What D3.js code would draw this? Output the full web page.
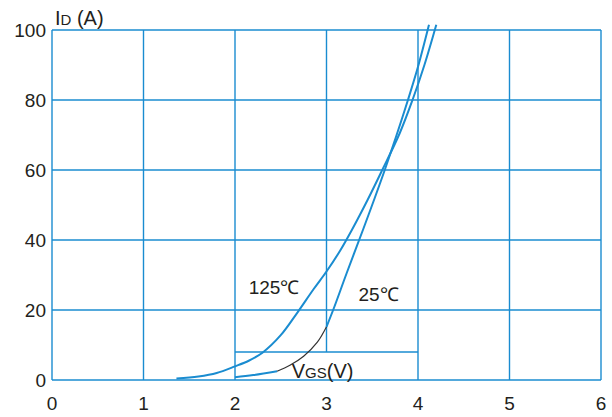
<!DOCTYPE html>
<html>
<head>
<meta charset="utf-8">
<script src="https://cdn.jsdelivr.net/npm/d3@7"></script>
<style>
  body { margin: 0; background: #fff; }
  text { font-family: "Liberation Sans", Arial, sans-serif; fill: #231f20; }
</style>
</head>
<body>
<script>
var xTicks = [0, 1, 2, 3, 4, 5, 6];
var yTicks = [0, 20, 40, 60, 80, 100];

// 125 C transfer curve [Vgs, Id]
var curve125 = [
  [1.36, 0.4], [1.6, 1.0], [1.8, 2.0], [2.0, 3.9], [2.15, 5.5], [2.3, 7.8],
  [2.5, 12.8], [2.68, 19.2], [2.86, 26], [3.0, 31], [3.15, 37], [3.28, 43],
  [3.45, 51.5], [3.6, 59.5], [3.8, 70.5], [3.94, 80], [4.07, 90], [4.2, 101.5]
];
// 25 C transfer curve
var curve25 = [
  [2.0, 0.8], [2.2, 1.4], [2.46, 2.5], [2.6, 4.2], [2.75, 6.8], [2.9, 10.8],
  [3.0, 15.2], [3.08, 20.5], [3.22, 30.5], [3.4, 43], [3.52, 51.5],
  [3.63, 59.5], [3.76, 69.5], [3.89, 80], [4.0, 89.5], [4.12, 101.5]
];

var width = 612, height = 417;
var margin = {top: 30, right: 11, bottom: 37, left: 52};
var w = width - margin.left - margin.right,
    h = height - margin.top - margin.bottom;
var blue = "#1a8cd0";

var xScale = d3.scaleLinear().domain([0, 6]).range([0, w]);
var yScale = d3.scaleLinear().domain([0, 100]).range([h, 0]);

var svg = d3.select("body").append("svg")
    .attr("width", width)
    .attr("height", height);

var g = svg.append("g")
    .attr("transform", "translate(" + margin.left + "," + margin.top + ")");

// grid - vertical (x=3 stops above the Vgs label box)
g.selectAll(".vgrid")
  .data(xTicks)
  .enter().append("line")
    .attr("x1", function(d) { return xScale(d); })
    .attr("x2", function(d) { return xScale(d); })
    .attr("y1", yScale(100))
    .attr("y2", function(d) { return d === 3 ? yScale(8) : yScale(0); })
    .attr("stroke", blue)
    .attr("stroke-width", 1.4);

g.selectAll(".hgrid")
  .data(yTicks)
  .enter().append("line")
    .attr("x1", 0)
    .attr("x2", w)
    .attr("y1", function(d) { return yScale(d); })
    .attr("y2", function(d) { return yScale(d); })
    .attr("stroke", blue)
    .attr("stroke-width", 1.4);

// box line for the axis label
g.append("line")
  .attr("x1", xScale(2)).attr("x2", xScale(4))
  .attr("y1", yScale(8)).attr("y2", yScale(8))
  .attr("stroke", blue)
  .attr("stroke-width", 1.4);

// tick labels
g.selectAll(".xlab")
  .data(xTicks)
  .enter().append("text")
    .attr("x", function(d) { return xScale(d); })
    .attr("y", h + 30)
    .attr("text-anchor", "middle")
    .attr("font-size", "19px")
    .text(function(d) { return d; });

g.selectAll(".ylab")
  .data(yTicks)
  .enter().append("text")
    .attr("x", -6)
    .attr("y", function(d) { return yScale(d) + 7; })
    .attr("text-anchor", "end")
    .attr("font-size", "19px")
    .text(function(d) { return d; });

// curves
var line = d3.line()
    .x(function(d) { return xScale(d[0]); })
    .y(function(d) { return yScale(d[1]); })
    .curve(d3.curveCatmullRom.alpha(0.5));

g.append("path")
  .attr("d", line(curve125))
  .attr("fill", "none")
  .attr("stroke", blue)
  .attr("stroke-width", 2);

// 25 C drawn in three pieces, middle part is black
var low = curve25.filter(function(d) { return d[0] <= 2.46; }),
    mid = curve25.filter(function(d) { return d[0] >= 2.46 && d[0] <= 3.0; }),
    high = curve25.filter(function(d) { return d[0] >= 3.0; });

g.append("path")
  .attr("d", line(low))
  .attr("fill", "none")
  .attr("stroke", blue)
  .attr("stroke-width", 2);
g.append("path")
  .attr("d", line(mid))
  .attr("fill", "none")
  .attr("stroke", "#333")
  .attr("stroke-width", 1.2);
g.append("path")
  .attr("d", line(high))
  .attr("fill", "none")
  .attr("stroke", blue)
  .attr("stroke-width", 2);

// curve labels
g.append("text")
  .attr("x", xScale(2.15))
  .attr("y", yScale(24.5))
  .attr("font-size", "19px")
  .text("125\u2103");

g.append("text")
  .attr("x", xScale(3.35))
  .attr("y", yScale(22.5))
  .attr("font-size", "19px")
  .text("25\u2103");

// axis titles
var vgs = g.append("text")
  .attr("x", xScale(2.62))
  .attr("y", yScale(0.6))
  .attr("font-size", "20px");
vgs.append("tspan").text("V");
vgs.append("tspan").attr("font-size", "15px").text("GS");
vgs.append("tspan").text("(V)");

var id = svg.append("text")
  .attr("x", 55)
  .attr("y", 25)
  .attr("font-size", "20px");
id.append("tspan").text("I");
id.append("tspan").attr("font-size", "15px").text("D");
id.append("tspan").text(" (A)");
</script>
</body>
</html>
